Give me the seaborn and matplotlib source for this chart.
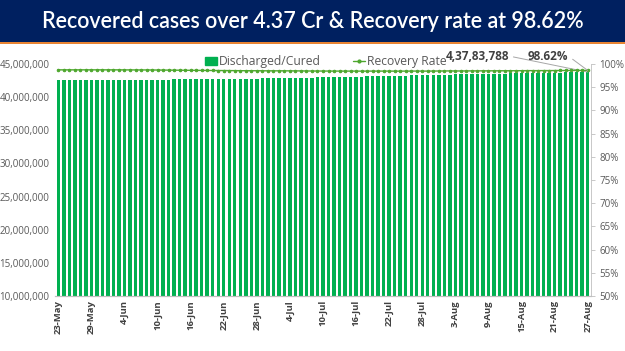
import matplotlib
matplotlib.use("Agg")
import matplotlib.pyplot as plt
import matplotlib.ticker as mticker
from matplotlib.patches import Rectangle
from matplotlib.lines import Line2D
import seaborn as sns
import pandas as pd

# ---------------- data ----------------
dates = (["%d-May" % d for d in range(23, 32)] +
         ["%d-Jun" % d for d in range(1, 31)] +
         ["%d-Jul" % d for d in range(1, 32)] +
         ["%d-Aug" % d for d in range(1, 28)])

discharged = [
    42596000, 42598200, 42600800, 42603500, 42606200, 42608900, 42611500, 42614100, 42616900,
    42619600, 42622400, 42625400, 42628700, 42631800, 42635500, 42639100, 42642600, 42647000, 42651300,
    42656000, 42661000, 42667000, 42673100, 42678100, 42683000, 42691000, 42698600, 42707100, 42716100,
    42725600, 42735900, 42748100, 42758700, 42771400, 42784400, 42796400, 42808300, 42822300, 42835600,
    42849500, 42864800, 42880000, 42895000, 42909600, 42924500, 42940500, 42955900, 42971400, 42987100,
    43003600, 43019500, 43035000, 43052300, 43069300, 43088300, 43107600, 43123900, 43142200, 43158300,
    43176300, 43195200, 43215800, 43236500, 43254400, 43274500, 43290500, 43310200, 43330600, 43349900, 43369300,
    43386900, 43404700, 43420800, 43437700, 43454500, 43471000, 43487200, 43504000, 43518600, 43533700,
    43550200, 43566200, 43582100, 43597600, 43613100, 43626800, 43641700, 43657000, 43671500, 43685800,
    43699900, 43713700, 43727900, 43741800, 43755800, 43769800, 43783788,
]

recovery_rate = [
    98.74, 98.74, 98.74, 98.74, 98.74, 98.74, 98.74, 98.74, 98.74,
    98.74, 98.74, 98.74, 98.73, 98.73, 98.72, 98.72, 98.72, 98.71, 98.70,
    98.69, 98.68, 98.67, 98.66, 98.65, 98.64, 98.63, 98.62, 98.61, 98.60,
    98.59, 98.59, 98.58, 98.57, 98.56, 98.55, 98.55, 98.55, 98.54, 98.53,
    98.53, 98.53, 98.53, 98.52, 98.52, 98.51, 98.50, 98.49, 98.49, 98.48,
    98.48, 98.47, 98.47, 98.47, 98.47, 98.47, 98.46, 98.47, 98.47, 98.47,
    98.47, 98.47, 98.46, 98.46, 98.47, 98.47, 98.48, 98.47, 98.47, 98.48, 98.49,
    98.50, 98.51, 98.50, 98.50, 98.51, 98.52, 98.52, 98.53, 98.53, 98.53,
    98.54, 98.54, 98.55, 98.55, 98.56, 98.57, 98.57, 98.57, 98.58, 98.58,
    98.59, 98.60, 98.60, 98.61, 98.61, 98.62, 98.62,
]

title = "Recovered cases over 4.37 Cr & Recovery rate at 98.62%"
bar_label = "Discharged/Cured"
line_label = "Recovery Rate"
last_count_text = "4,37,83,788"
last_rate_text = "98.62%"

df = pd.DataFrame({"date": dates, "discharged": discharged,
                   "rate": [r / 100 for r in recovery_rate]})

# ---------------- style ----------------
sns.set_style("white")
plt.rcParams["font.family"] = ["Open Sans", "DejaVu Sans"]

BAR_C = "#00b050"
LINE_C = "#4ea72e"
TXT_C = "#595959"

fig = plt.figure(figsize=(6.25, 3.51), dpi=100)

# title banner
fig.patches.append(Rectangle((0, 1 - 42 / 351), 1, 42 / 351, transform=fig.transFigure,
                             facecolor="#002060", edgecolor="none", zorder=0))
fig.add_artist(Line2D([0, 1], [1 - 43 / 351, 1 - 43 / 351], transform=fig.transFigure,
                      color="#e46c0a", linewidth=1.2))
fig.text(0.5, 1 - 21 / 351, title, ha="center", va="center", color="white",
         fontsize=15.5, fontweight="semibold", family=["Lato", "DejaVu Sans"])

ax = fig.add_axes([55 / 625, 1 - 296 / 351, (591 - 55) / 625, (296 - 64) / 351])
sns.barplot(data=df, x="date", y="discharged", color=BAR_C, width=0.62,
            saturation=1, ax=ax, label=bar_label, linewidth=0)
ax.set_ylim(10_000_000, 45_000_000)
ax.yaxis.set_major_locator(mticker.MultipleLocator(5_000_000))
ax.yaxis.set_major_formatter(mticker.FuncFormatter(lambda v, p: f"{int(v):,}"))
ax.set_xlabel("")
ax.set_ylabel("")
ax.set_xlim(-0.6, len(dates) - 0.4)

ax2 = ax.twinx()
sns.pointplot(data=df, x="date", y="rate", color=LINE_C, markers="o",
              markersize=1.8, linewidth=1.0, ax=ax2, label=line_label)
ax2.set_ylim(0.5, 1.0)
ax2.yaxis.set_major_locator(mticker.MultipleLocator(0.05))
ax2.yaxis.set_major_formatter(mticker.PercentFormatter(1.0, decimals=0))
ax2.set_ylabel("")
ax2.set_xlabel("")
ax2.set_xlim(-0.6, len(dates) - 0.4)

tick_pos = list(range(0, len(dates), 6))
ax.set_xticks(tick_pos)
ax.set_xticklabels([dates[i] for i in tick_pos], rotation=90, fontsize=6.8,
                   fontweight="bold", color="#404040")
ax.tick_params(axis="x", length=0, pad=3)
ax.tick_params(axis="y", labelsize=7, colors=TXT_C, length=0, pad=4)
ax2.tick_params(axis="y", labelsize=7, colors=TXT_C, length=3, width=0.6,
                direction="out", pad=3)
ax2.tick_params(axis="x", length=0)

for a in (ax, ax2):
    for s in ("top", "left"):
        a.spines[s].set_visible(False)
    a.spines["bottom"].set_color("#bfbfbf")
    a.spines["right"].set_visible(False)
ax2.spines["right"].set_visible(True)
ax2.spines["right"].set_color("#bfbfbf")
ax2.spines["right"].set_linewidth(0.6)
ax2.tick_params(axis="y", color="#bfbfbf")

# legend
handles = [Rectangle((0, 0), 1, 1, color=BAR_C),
           Line2D([0], [0], color=LINE_C, marker="o", markersize=2, linewidth=1)]
ax.legend(handles, [bar_label, line_label], loc="center", ncol=2, frameon=False,
          bbox_to_anchor=(0.505, 1.01), fontsize=8.7, labelcolor=TXT_C,
          handlelength=1.0, handleheight=0.7, columnspacing=2.6, handletextpad=0.2)
if ax2.get_legend():
    ax2.get_legend().remove()

# annotations
last = len(dates) - 1
ax.annotate(last_count_text, xy=(last, discharged[-1]), xycoords="data",
            xytext=(477, 351 - 56), textcoords="figure pixels",
            ha="center", va="center", fontsize=8.5, fontweight="bold", color="#404040",
            arrowprops=dict(arrowstyle="-", color="#a6a6a6", lw=0.7,
                            shrinkA=1, shrinkB=0, relpos=(1, 0.5)))
ax2.annotate(last_rate_text, xy=(last, recovery_rate[-1] / 100), xycoords="data",
             xytext=(548, 351 - 56), textcoords="figure pixels",
             ha="center", va="center", fontsize=8.5, fontweight="bold", color="#404040",
             arrowprops=dict(arrowstyle="-", color="#a6a6a6", lw=0.7,
                             shrinkA=1, shrinkB=0, relpos=(1, 0.5)))

fig.savefig("out.png", dpi=100)
